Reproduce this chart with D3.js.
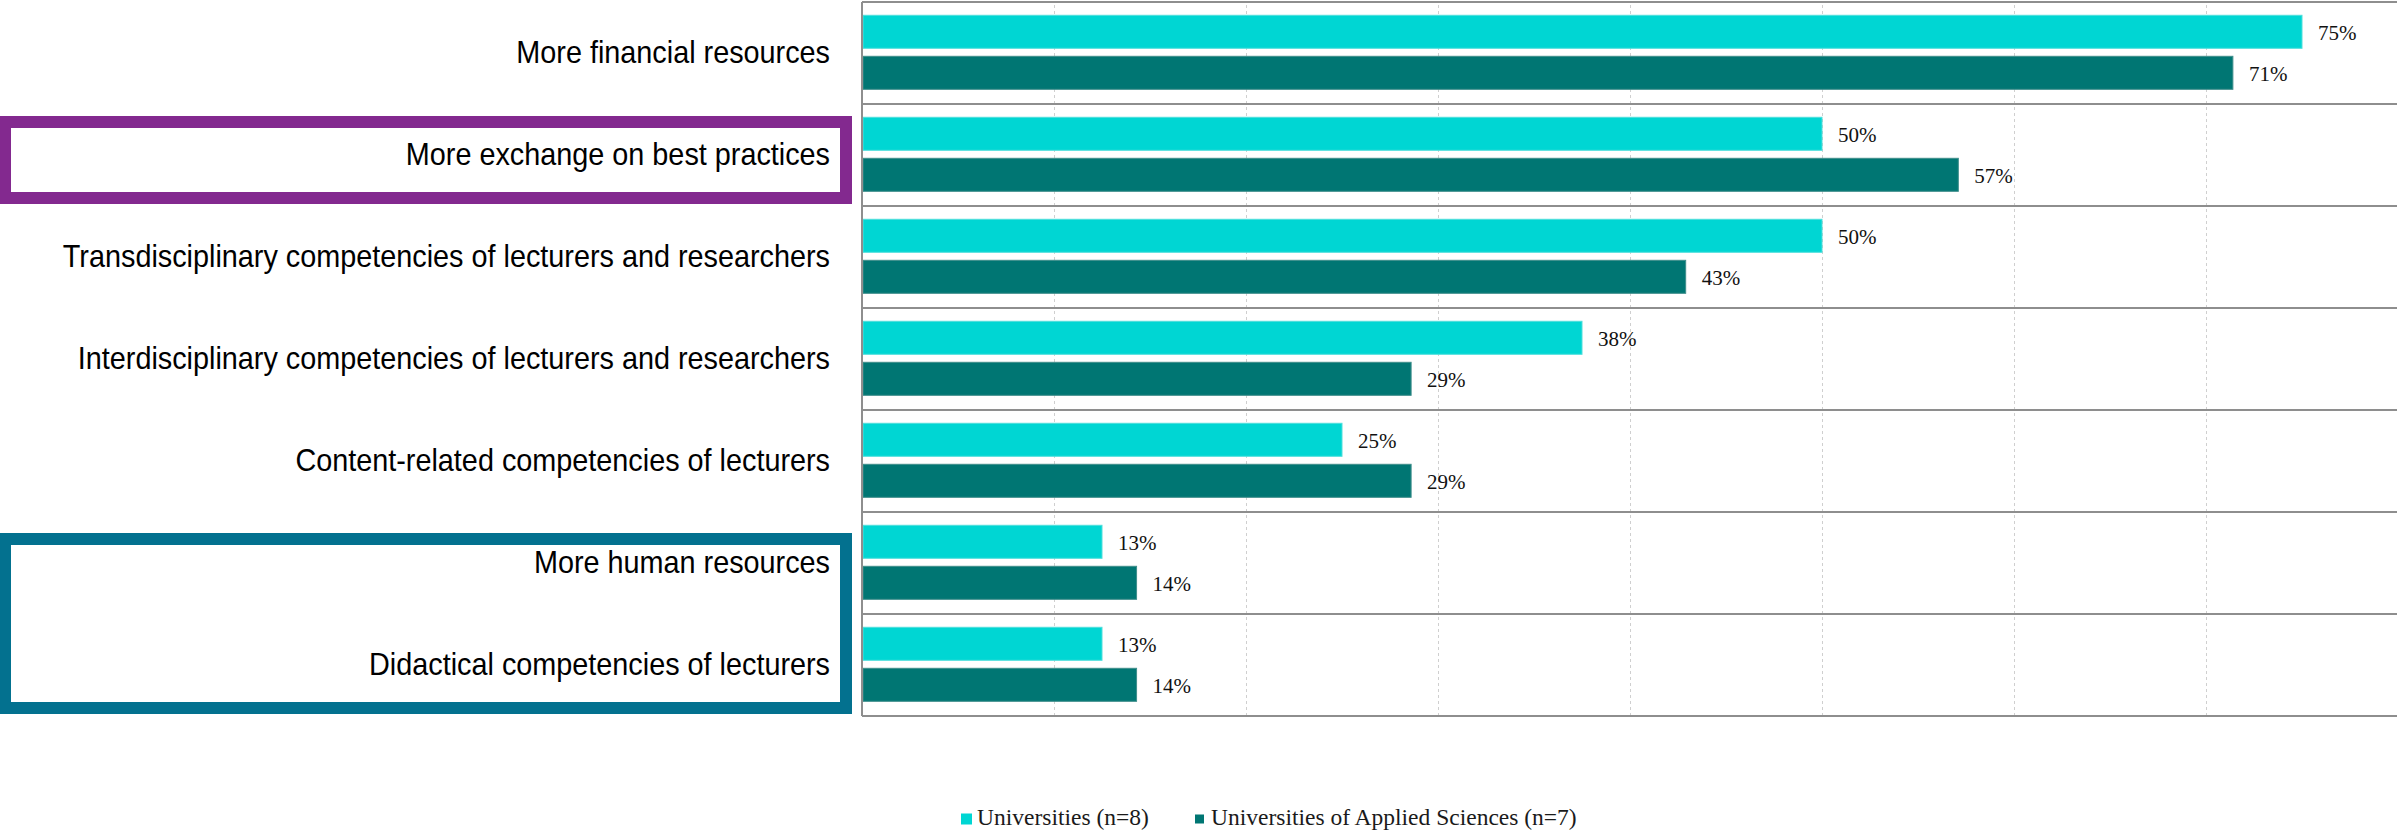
<!DOCTYPE html>
<html>
<head>
<meta charset="utf-8">
<script src="https://cdn.jsdelivr.net/npm/d3@7/dist/d3.min.js"></script>
<style>
  html, body { margin: 0; padding: 0; background: #ffffff; }
  svg { display: block; }
</style>
</head>
<body>
<svg id="chart" width="2397" height="831"></svg>
<script>
// Support measures, listed top to bottom
const categories = [
  "More financial resources",
  "More exchange on best practices",
  "Transdisciplinary competencies of lecturers and researchers",
  "Interdisciplinary competencies of lecturers and researchers",
  "Content-related competencies of lecturers",
  "More human resources",
  "Didactical competencies of lecturers"
];

const seriesNames = ["Universities (n=8)", "Universities of Applied Sciences (n=7)"];

// Share of institutions (%) per measure
const universities = [75, 50, 50, 37.5, 25, 12.5, 12.5];
const appliedSciences = [71.4, 57.1, 42.9, 28.6, 28.6, 14.3, 14.3];

const seriesColors = ["#00d6d3", "#007673"];
const seriesStroke = ["#4fdfdc", "#3f8e8b"];

// Highlight frames around groups of measures
const highlightGroups = [
  { from: "More exchange on best practices", to: "More exchange on best practices", color: "#83298f", inset: 12 },
  { from: "More human resources", to: "Didactical competencies of lecturers", color: "#03718f", inset: 21 }
];

const svg = d3.select("#chart");
const W = 2397;

const plot = { left: 862, top: 2, bottom: 716, right: 862 + 1536 };

const x = d3.scaleLinear().domain([0, 80]).range([plot.left, plot.right]);
const y = d3.scaleBand().domain(categories).range([plot.top, plot.bottom]).padding(0);
const ySub = d3.scaleBand()
  .domain(seriesNames)
  .range([0, y.bandwidth()])
  .paddingInner(0.195)
  .paddingOuter(0.341)
  .align(0.475);

const rows = categories.map((c, i) => ({ cat: c, vals: [universities[i], appliedSciences[i]] }));

// Dashed vertical gridlines
const gridAxis = d3.axisBottom(x)
  .tickValues(x.ticks(8).filter(t => t > 0 && t < 80))
  .tickSize(-(plot.bottom - plot.top))
  .tickFormat("");
const gridG = svg.append("g")
  .attr("transform", `translate(0,${plot.bottom})`)
  .call(gridAxis);
gridG.select(".domain").remove();
gridG.selectAll(".tick line")
  .attr("stroke", "#cfcfcf")
  .attr("stroke-width", 1)
  .attr("stroke-dasharray", "3,3");

// Horizontal separators between measures
const bounds = categories.map(c => y(c)).concat([plot.bottom]);
svg.append("g").selectAll("line")
  .data(bounds)
  .join("line")
  .attr("x1", plot.left)
  .attr("x2", W)
  .attr("y1", d => d)
  .attr("y2", d => d)
  .attr("stroke", "#8e8e8e")
  .attr("stroke-width", 2);

// Bars
const rowG = svg.append("g").selectAll("g")
  .data(rows)
  .join("g")
  .attr("transform", d => `translate(0,${y(d.cat)})`);

rowG.selectAll("rect")
  .data(d => d.vals.map((v, k) => ({ v, k })))
  .join("rect")
  .attr("x", x(0) + 1)
  .attr("y", d => ySub(seriesNames[d.k]))
  .attr("width", d => x(d.v) - x(0) - 1)
  .attr("height", ySub.bandwidth())
  .attr("fill", d => seriesColors[d.k])
  .attr("stroke", d => seriesStroke[d.k])
  .attr("stroke-width", 1);

// Value labels
rowG.selectAll("text")
  .data(d => d.vals.map((v, k) => ({ v, k })))
  .join("text")
  .attr("x", d => x(d.v) + 16)
  .attr("y", d => ySub(seriesNames[d.k]) + ySub.bandwidth() / 2)
  .attr("dy", "0.38em")
  .attr("font-family", "'Liberation Serif', 'Times New Roman', serif")
  .attr("font-size", 21)
  .attr("fill", "#111")
  .text(d => Math.round(d.v) + "%");

// Left axis line
svg.append("line")
  .attr("x1", plot.left).attr("x2", plot.left)
  .attr("y1", plot.top).attr("y2", plot.bottom)
  .attr("stroke", "#8e8e8e")
  .attr("stroke-width", 2);

// Highlight frames
const frameStroke = 12;
svg.append("g").selectAll("rect")
  .data(highlightGroups)
  .join("rect")
  .attr("x", -1 + frameStroke / 2)
  .attr("width", 852 - (-1) - frameStroke)
  .attr("y", d => y(d.from) + d.inset + frameStroke / 2)
  .attr("height", d => {
    const top = y(d.from) + d.inset;
    const bottom = y(d.to) + y.bandwidth() - 2;
    return bottom - top - frameStroke;
  })
  .attr("fill", "none")
  .attr("stroke", d => d.color)
  .attr("stroke-width", frameStroke);

// Category labels (condensed sans)
svg.append("g").selectAll("g")
  .data(categories)
  .join("g")
  .attr("transform", d => `translate(830,${y(d) + y.bandwidth() / 2}) scale(0.9,1)`)
  .append("text")
  .attr("text-anchor", "end")
  .attr("dy", "0.31em")
  .attr("font-family", "'Liberation Sans', Arial, sans-serif")
  .attr("font-size", 32)
  .attr("fill", "#000")
  .text(d => d);

// Legend
const legendItems = [
  { name: seriesNames[0], color: seriesColors[0], sx: 961, size: 11, tx: 977 },
  { name: seriesNames[1], color: seriesColors[1], sx: 1195, size: 9, tx: 1211 }
];
const lg = svg.append("g").selectAll("g")
  .data(legendItems)
  .join("g");
lg.append("rect")
  .attr("x", d => d.sx)
  .attr("y", d => 819 - d.size / 2)
  .attr("width", d => d.size)
  .attr("height", d => d.size)
  .attr("fill", d => d.color);
lg.append("text")
  .attr("x", d => d.tx)
  .attr("y", 825)
  .attr("font-family", "'Liberation Serif', 'Times New Roman', serif")
  .attr("font-size", 23.5)
  .attr("fill", "#1a1a1a")
  .text(d => d.name);
</script>
</body>
</html>
